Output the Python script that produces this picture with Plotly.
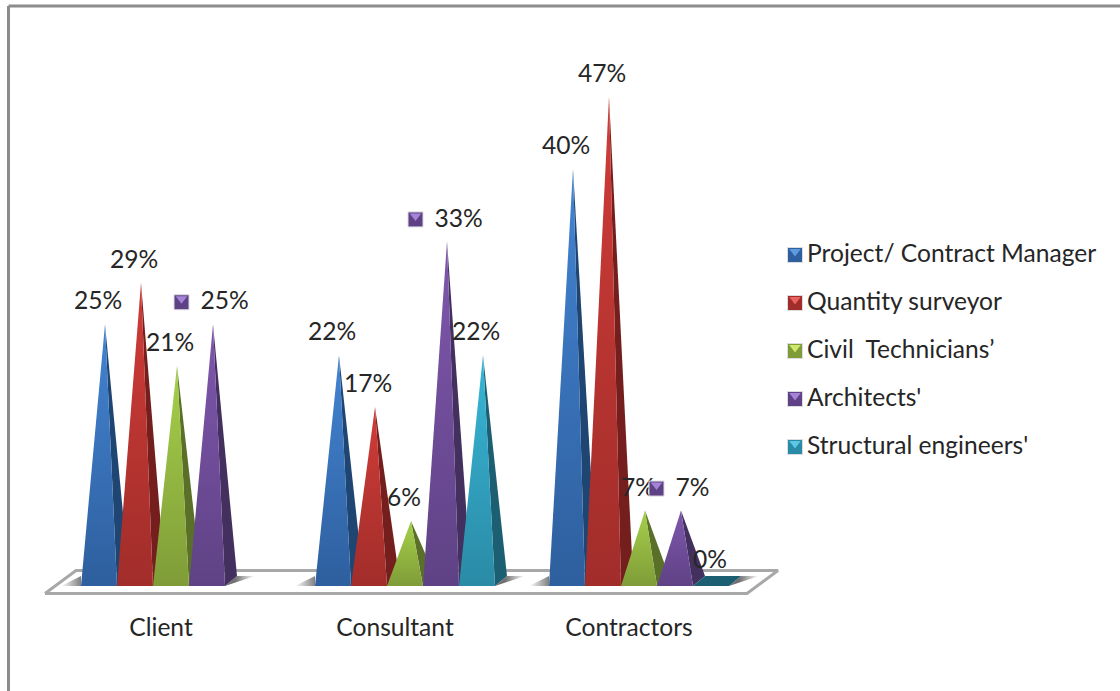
import plotly.graph_objects as go

# Survey results by respondent group, in percent
categories = ["Client", "Consultant", "Contractors"]
series_names = ["Project/ Contract Manager", "Quantity surveyor", "Civil  Technicians’",
                "Architects'", "Structural engineers'"]
project_manager = [25, 22, 40]
quantity_surveyor = [29, 17, 47]
civil_technicians = [21, 6, 7]
architects = [25, 33, 7]
structural_engineers = [None, 22, 0]
series_values = [project_manager, quantity_surveyor, civil_technicians, architects, structural_engineers]

# Face colours per series: gradient bottom, gradient top, side face, key highlight
palette = [
    ("#2e5f9e", "#4384d2", "#1f4672", "#5f9be0"),
    ("#a12d2a", "#d03c38", "#741f1d", "#e8625e"),
    ("#7f9c38", "#a6d04a", "#5a7029", "#cfe86c"),
    ("#5f4285", "#7f57ad", "#43305f", "#a583d6"),
    ("#2a8ba6", "#38b6d6", "#1d5f72", "#5cc8e4"),
]

WIDTH, HEIGHT = 1120, 691
PLOT_BOTTOM = 600
PX_PER_CATEGORY = 234.0
PX_PER_PERCENT = 10.35
ORIGIN_X, ORIGIN_Y = 161.0, 583.0


def dx(px):
    return px / PX_PER_CATEGORY


def dy(px):
    return px / PX_PER_PERCENT


def to_x(px):
    return (px - ORIGIN_X) / PX_PER_CATEGORY


def to_y(px):
    return (ORIGIN_Y - px) / PX_PER_PERCENT


BAR_W = dx(36)
DEPTH_X = dx(12)
DEPTH_Y = dy(10)
BASE_FRONT = -dy(3)       # front edge of a pyramid base, below the axis origin
GROUP_START = dx(-80)     # left end of the first bar, relative to the category tick
LABEL_RISE = dy(21)

fig = go.Figure()


def polygon(xs, ys, **kw):
    fig.add_trace(go.Scatter(x=list(xs) + [xs[0]], y=list(ys) + [ys[0]], mode="lines",
                             fill="toself", showlegend=False, hoverinfo="skip", **kw))


# Floor slab
floor_x = [to_x(45), to_x(747), to_x(778), to_x(76)]
floor_y = [to_y(593.5), to_y(593.5), to_y(570.5), to_y(570.5)]
polygon(floor_x, floor_y, fillcolor="#ffffff", line=dict(color="#a8a8a8", width=3))

# Soft shadows that each group casts on the floor
for i in range(len(categories)):
    left = i + GROUP_START
    right = left + 5 * BAR_W if i else left + 4 * BAR_W
    top = BASE_FRONT + DEPTH_Y
    polygon([left, left - dx(20), left], [BASE_FRONT, BASE_FRONT, top],
            line=dict(width=0), fillcolor="rgba(0,0,0,0)",
            fillgradient=dict(type="horizontal", start=left - dx(20), stop=left,
                              colorscale=[[0, "#ffffff"], [1, "#808080"]]))
    polygon([right, right + DEPTH_X, right + DEPTH_X + dx(18)],
            [BASE_FRONT, top, top],
            line=dict(width=0), fillcolor="rgba(0,0,0,0)",
            fillgradient=dict(type="horizontal", start=right + dx(10), stop=right + DEPTH_X + dx(18),
                              colorscale=[[0, "#707070"], [1, "#ffffff"]]))

labels_x, labels_y, labels_text = [], [], []
arch_x, arch_y, arch_text = [], [], []

# Pyramids, left to right so that each one overlaps its neighbour's side face
for i in range(len(categories)):
    for s, values in enumerate(series_values):
        value = values[i]
        if value is None:
            continue
        bottom, top_col, side, _ = palette[s]
        x0 = i + GROUP_START + s * BAR_W
        x1 = x0 + BAR_W
        tip_x = x0 + BAR_W / 2 + DEPTH_X / 2
        back = BASE_FRONT + DEPTH_Y
        if value == 0:
            polygon([x0, x1, x1 + DEPTH_X, x0 + DEPTH_X], [BASE_FRONT, BASE_FRONT, back, back],
                    fillcolor=side, line=dict(width=0))
        else:
            polygon([x1, x1 + DEPTH_X, tip_x], [BASE_FRONT, back, value], fillcolor=side, line=dict(width=0))
            polygon([x0, x1, tip_x], [BASE_FRONT, BASE_FRONT, value], line=dict(width=0),
                    fillcolor="rgba(0,0,0,0)",
                    fillgradient=dict(type="vertical", start=BASE_FRONT, stop=value,
                                      colorscale=[[0, bottom], [1, top_col]]))
        if s == 3:
            arch_x.append(tip_x + dx(11.5))
            arch_y.append(value + LABEL_RISE)
            arch_text.append(f"{value}%")
        else:
            labels_x.append(tip_x - dx(7))
            labels_y.append(value + LABEL_RISE)
            labels_text.append(f"{value}%")

FONT = dict(family="Lato, Carlito, sans-serif", size=24.6, color="#262626")


def key(xs, ys, s):
    """Small square swatch with a lighter triangular facet along its top edge."""
    bottom, _, _, light = palette[s]
    fig.add_trace(go.Scatter(x=xs, y=ys, mode="markers", showlegend=False, hoverinfo="skip",
                             marker=dict(symbol="square", size=15, color=bottom,
                                         line=dict(color="#dcdce2", width=1))))
    fig.add_trace(go.Scatter(x=xs, y=[v + dy(3.5) for v in ys], mode="markers", showlegend=False,
                             hoverinfo="skip",
                             marker=dict(symbol="triangle-down", size=10, color=light, line=dict(width=0))))


# Value labels
fig.add_trace(go.Scatter(x=labels_x, y=labels_y, text=labels_text, mode="text",
                         textposition="middle center", textfont=FONT, showlegend=False, hoverinfo="skip"))
fig.add_trace(go.Scatter(x=arch_x, y=arch_y, text=arch_text, mode="text",
                         textposition="middle center", textfont=FONT, showlegend=False, hoverinfo="skip"))
key([x - dx(43 if len(t) == 3 else 36) for x, t in zip(arch_x, arch_text)],
    [y + dy(1) for y in arch_y], 3)

# Series key on the right
for s, name in enumerate(series_names):
    row_y = to_y(255 + 48 * s)
    key([to_x(795)], [row_y], s)
    fig.add_trace(go.Scatter(x=[to_x(807)], y=[row_y - dy(1)], text=[name], mode="text",
                             textposition="middle right", textfont=FONT, showlegend=False, hoverinfo="skip"))

# Outer frame: only the top and left edges of the chart area are visible
frame = dict(color="#8c8c8c", width=3)
frame_top = 1 - 6 / PLOT_BOTTOM
frame_left = 8.5 / WIDTH
shapes = [
    dict(type="line", xref="paper", yref="paper", x0=frame_left, x1=1, y0=frame_top, y1=frame_top, line=frame),
    dict(type="line", xref="paper", yref="paper", x0=frame_left, x1=frame_left, y0=frame_top, y1=-0.2, line=frame),
]

fig.update_layout(
    width=WIDTH, height=HEIGHT, autosize=False,
    margin=dict(l=0, r=0, t=0, b=HEIGHT - PLOT_BOTTOM, pad=0),
    paper_bgcolor="#ffffff", plot_bgcolor="rgba(0,0,0,0)",
    showlegend=False,
    xaxis=dict(range=[to_x(0), to_x(WIDTH)], tickmode="array", tickvals=list(range(len(categories))),
               ticktext=categories, showgrid=False, zeroline=False, showline=False,
               ticks="outside", ticklen=5, tickcolor="rgba(0,0,0,0)", tickfont=FONT, automargin=False),
    yaxis=dict(range=[to_y(PLOT_BOTTOM), to_y(0)], visible=False, automargin=False),
)
for sh in shapes:
    fig.add_shape(**sh)

fig.write_html("out.html", config=dict(displayModeBar=False))
